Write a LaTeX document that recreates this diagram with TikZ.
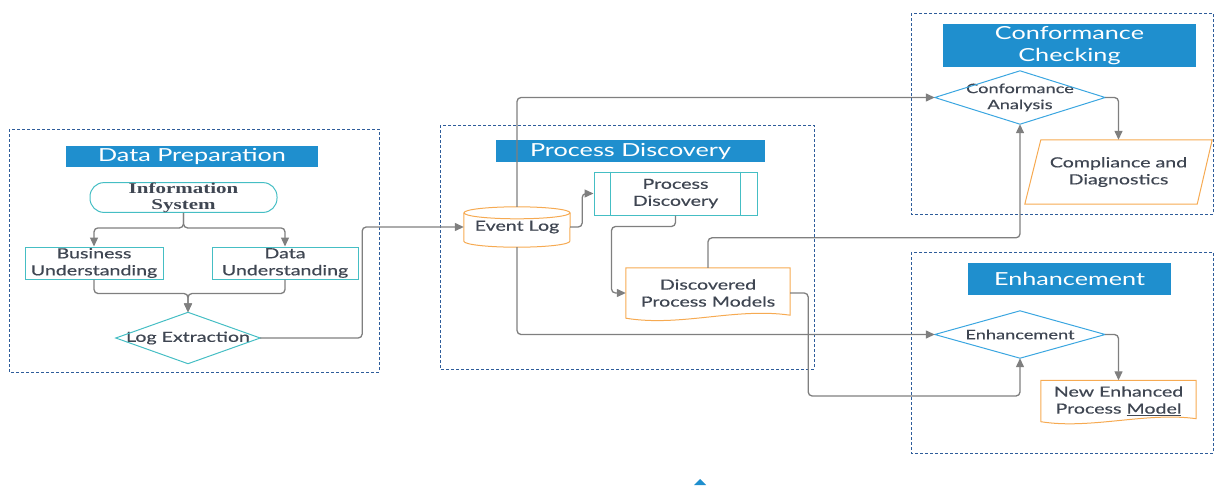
\documentclass[tikz,border=0pt]{standalone}
\usepackage{fontspec}
\setmainfont{Lato}[FakeStretch=1.4]
\newfontfamily\bodyfont{Lato}[FakeStretch=1.4, FakeBold=0.5]
\newfontfamily\infofont{Liberation Serif}[FakeStretch=1.4]
\usepackage{tikz}
\usetikzlibrary{arrows.meta}
\definecolor{barblue}{HTML}{1F8FCE}
\definecolor{frameblue}{HTML}{2E5C9A}
\definecolor{tealline}{HTML}{45BEC4}
\definecolor{orangeline}{HTML}{F6AA52}
\definecolor{diablue}{HTML}{3AA6E0}
\definecolor{linegray}{HTML}{7F7F7F}
\definecolor{textdark}{HTML}{3F4652}
\tikzstyle{frame} = [draw=frameblue, densely dashed, line width=1pt]
\tikzstyle{titlebar} = [fill=barblue, text=white, align=center, inner sep=0pt, font=\fontsize{18}{22}\selectfont]
\tikzstyle{plain} = [text=textdark, align=center, inner sep=0pt, font=\bodyfont\fontsize{14}{17}\selectfont]
\tikzstyle{tealbox} = [plain, draw=tealline, line width=1pt]
\tikzstyle{orangebox} = [draw=orangeline, line width=1pt]
\tikzstyle{bluediamond} = [draw=diablue, line width=1pt]
\tikzstyle{link} = [draw=linegray, line width=1.3pt, rounded corners=4pt]
\tikzstyle{arrow} = [link, -{Triangle[length=9pt,width=8pt]}]

\begin{document}
\begin{tikzpicture}[x=1pt, y=-1pt]
\useasboundingbox (0,0) rectangle (1215,485);

% dashed frames of the four stages
\draw[frame] (9,129) rectangle (379,372);
\draw[frame] (440,125) rectangle (814,369);
\draw[frame] (911,13) rectangle (1213,214);
\draw[frame] (911,252) rectangle (1213,453);

% stage titles
\node[titlebar, minimum width=252pt, minimum height=21pt] (prepbar) at (192,156.5) {Data Preparation};
\node[titlebar, minimum width=269pt, minimum height=22pt] (discbar) at (630.5,151) {Process Discovery};
\node[titlebar, minimum width=253pt, minimum height=43pt] (confbar) at (1069.5,45.5) {Conformance\\Checking};
\node[titlebar, minimum width=203pt, minimum height=32pt] (enhbar) at (1069.5,279) {Enhancement};

% data preparation
\node[tealbox, rounded corners=14pt, minimum width=187pt, minimum height=29pt, font=\infofont\bfseries\fontsize{15}{16}\selectfont] (infosys) at (183.5,197.5) {Information\\System};
\node[tealbox, minimum width=138pt, minimum height=32pt] (bizund) at (94,263) {Business\\Understanding};
\node[tealbox, minimum width=146pt, minimum height=32pt] (dataund) at (285,263) {Data\\Understanding};
\node[plain, minimum width=144pt, minimum height=51pt] (logext) at (188,338) {Log Extraction};
\draw[draw=tealline, line width=1pt] (logext.north) -- (logext.east) -- (logext.south) -- (logext.west) -- cycle;

% process discovery
\node[plain, minimum width=106pt, minimum height=40pt] (eventlog) at (517,227) {\raisebox{-3pt}{Event Log}};
\draw[orangebox] (eventlog.north) ++(0,-6pt) ellipse [x radius=53pt, y radius=6pt];
\draw[orangebox] ([yshift=-6pt]eventlog.north west) -- ([yshift=6pt]eventlog.south west)
  arc[start angle=180, end angle=360, x radius=53pt, y radius=6pt] -- ([yshift=-6pt]eventlog.north east);

\node[tealbox, minimum width=163pt, minimum height=43pt] (procdisc) at (675.5,193.5) {Process\\Discovery};
\draw[draw=tealline, line width=1pt] ([xshift=17pt]procdisc.north west) -- ([xshift=17pt]procdisc.south west);
\draw[draw=tealline, line width=1pt] ([xshift=-17pt]procdisc.north east) -- ([xshift=-17pt]procdisc.south east);

\node[plain, minimum width=164pt, minimum height=50pt] (discmodels) at (708,293) {Discovered\\Process Models};
\draw[orangebox] (discmodels.south west) -- (discmodels.north west) -- (discmodels.north east) -- ([yshift=3pt]discmodels.south east)
  .. controls ([xshift=-55pt,yshift=11pt]discmodels.south east) and ([xshift=55pt,yshift=-9pt]discmodels.south west) .. cycle;

% conformance checking
\node[plain, minimum width=170pt, minimum height=53pt, font=\bodyfont\fontsize{13}{16}\selectfont] (confan) at (1020,97.5) {Conformance\\Analysis};
\draw[bluediamond] (confan.north) -- (confan.east) -- (confan.south) -- (confan.west) -- cycle;
\node[plain, minimum width=187pt, minimum height=64pt] (compl) at (1118.5,172) {Compliance and\\Diagnostics};
\draw[orangebox] (compl.south west) -- ([xshift=16pt]compl.north west) -- (compl.north east) -- ([xshift=-15pt]compl.south east) -- cycle;

% enhancement
\node[plain, minimum width=170pt, minimum height=47pt, font=\bodyfont\fontsize{13}{16}\selectfont] (enhan) at (1020,334.5) {Enhancement};
\draw[bluediamond] (enhan.north) -- (enhan.east) -- (enhan.south) -- (enhan.west) -- cycle;
\node[plain, minimum width=155pt, minimum height=41pt] (newmodel) at (1118.5,401) {New Enhanced\\Process \underline{Model}};
\draw[orangebox] (newmodel.south west) -- (newmodel.north west) -- (newmodel.north east) -- ([yshift=3pt]newmodel.south east)
  .. controls ([xshift=-50pt,yshift=10pt]newmodel.south east) and ([xshift=50pt,yshift=-8pt]newmodel.south west) .. cycle;

% connectors
\draw[arrow] (infosys.south) -- ++(0,15) -| (bizund.north);
\draw[arrow] (infosys.south) -- ++(0,15) -| (dataund.north);
\draw[arrow] (bizund.south) -- ++(0,14) -| (logext.north);
\draw[arrow] (dataund.south) -- ++(0,14) -| (logext.north);
\draw[arrow] (logext.east) -- ++(102,0) |- (eventlog.west);
\draw[arrow] (eventlog.east) -- ++(12,0) |- (procdisc.west);
\draw[arrow] (procdisc.south) -- ++(0,11) -- ++(-64,0) |- (discmodels.west);
\draw[arrow] (eventlog.north) |- (confan.west);
\draw[arrow] (eventlog.south) |- (enhan.west);
\draw[arrow] (discmodels.north) -- ++(0,-30) -| (confan.south);
\draw[arrow] (discmodels.east) -- ++(18,0) -- ++(0,103) -| (enhan.south);
\draw[arrow] (confan.east) -| (compl.north);
\draw[arrow] (enhan.east) -| (newmodel.north);

% marker at the lower edge
\fill[barblue] (694,485) -- (700,479) -- (706,485) -- cycle;
\end{tikzpicture}
\end{document}
